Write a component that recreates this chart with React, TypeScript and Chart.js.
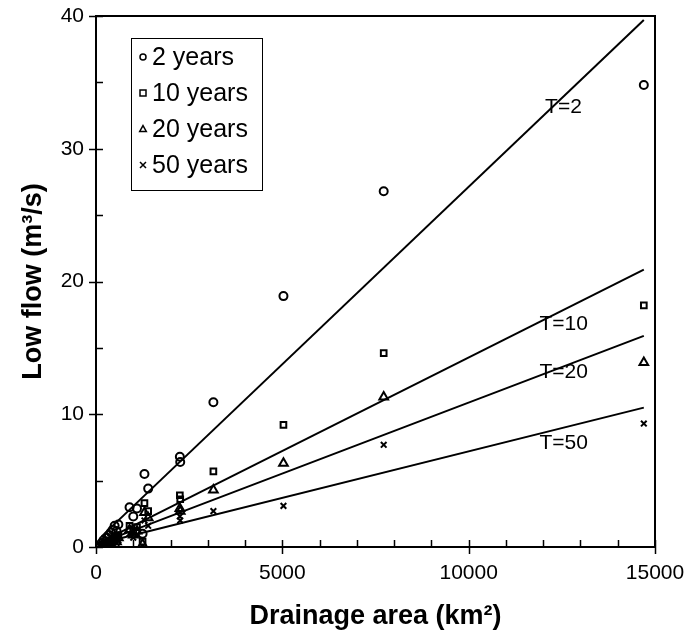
import React, { useEffect, useRef } from "react";
import { Chart, registerables } from "chart.js";

Chart.register(...registerables);

// Drainage area of each gauging station (km²)
const AREA = [150, 200, 250, 300, 350, 400, 450, 500, 550, 600, 900, 1000, 1100, 1250, 1300, 1400, 2250, 2260, 3150, 5030, 7720, 14700];
// Low flow (m³/s) for each return period
const Q2 = [0.3, 0.5, 0.4, 0.7, 0.9, 1.1, 1.3, 1.6, 1.2, 1.7, 3.0, 2.3, 2.9, 1.0, 5.5, 4.4, 6.8, 6.4, 10.9, 18.9, 26.8, 34.8];
const Q10 = [0.1, 0.2, 0.2, 0.3, 0.4, 0.5, 0.6, 0.8, 0.6, 0.9, 1.6, 1.2, 1.5, 0.4, 3.3, 2.7, 3.9, 3.6, 5.7, 9.2, 14.6, 18.2];
const Q20 = [0.05, 0.1, 0.1, 0.2, 0.3, 0.4, 0.5, 0.6, 0.4, 0.7, 1.3, 0.9, 1.2, 0.2, 2.6, 2.2, 2.9, 2.7, 4.3, 6.3, 11.3, 13.9];
const Q50 = [0.0, 0.05, 0.05, 0.1, 0.2, 0.2, 0.3, 0.4, 0.3, 0.5, 1.0, 0.7, 0.9, 0.05, 2.0, 1.6, 2.3, 2.0, 2.7, 3.1, 7.7, 9.3];

// Fitted regression lines: value at the two ends of FIT_AREA
const FIT_AREA = [150, 14700];
const FIT_T2 = [0.8, 39.7];
const FIT_T10 = [0.4, 20.9];
const FIT_T20 = [0.35, 15.9];
const FIT_T50 = [0.3, 10.5];

// Line labels: text, anchor area (left edge), anchor flow (middle)
const LINE_LABELS = ["T=2", "T=10", "T=20", "T=50"];
const LABEL_AREA = [12050, 11900, 11900, 11900];
const LABEL_FLOW = [33.1, 16.8, 13.2, 7.8];

const LEGEND_TEXT = ["2 years", "10 years", "20 years", "50 years"];
const SERIES = [Q2, Q10, Q20, Q50];
const STYLES = ["circle", "rect", "triangle", "crossRot"];

const X_MAX = 15000;
const X_STEP = 5000;
const Y_MAX = 40;
const Y_STEP = 10;

const FONT = "'Liberation Sans', Arial, sans-serif";

function drawMarker(ctx: CanvasRenderingContext2D, style: string, x: number, y: number, r: number) {
  ctx.beginPath();
  if (style === "circle") {
    ctx.arc(x, y, r, 0, Math.PI * 2);
  } else if (style === "rect") {
    ctx.rect(x - r, y - r, 2 * r, 2 * r);
  } else if (style === "triangle") {
    ctx.moveTo(x, y - r * 1.15);
    ctx.lineTo(x + r * 1.1, y + r * 0.8);
    ctx.lineTo(x - r * 1.1, y + r * 0.8);
    ctx.closePath();
  } else {
    ctx.moveTo(x - r, y - r);
    ctx.lineTo(x + r, y + r);
    ctx.moveTo(x + r, y - r);
    ctx.lineTo(x - r, y + r);
  }
  ctx.stroke();
}

const framePlugin = {
  id: "frameAndTicks",
  afterDraw(chart: any) {
    const { ctx, chartArea } = chart;
    const xs = chart.scales.x;
    const ys = chart.scales.y;
    ctx.save();
    ctx.strokeStyle = "#000";
    ctx.lineWidth = 2;
    ctx.strokeRect(chartArea.left, chartArea.top, chartArea.right - chartArea.left, chartArea.bottom - chartArea.top);
    ctx.lineWidth = 1.5;
    ctx.beginPath();
    for (let v = 0; v <= X_MAX; v += 1000) {
      const px = Math.round(xs.getPixelForValue(v)) + 0.5;
      const major = v % X_STEP === 0;
      ctx.moveTo(px, chartArea.bottom + (major ? 7 : 0));
      ctx.lineTo(px, chartArea.bottom - 7);
    }
    for (let v = 0; v <= Y_MAX; v += 5) {
      const py = Math.round(ys.getPixelForValue(v)) + 0.5;
      const major = v % Y_STEP === 0;
      ctx.moveTo(chartArea.left - (major ? 7 : 0), py);
      ctx.lineTo(chartArea.left + 7, py);
    }
    ctx.stroke();

    // regression line labels
    ctx.fillStyle = "#000";
    ctx.font = `21px ${FONT}`;
    ctx.textBaseline = "middle";
    ctx.textAlign = "left";
    LINE_LABELS.forEach((t, i) => {
      ctx.fillText(t, xs.getPixelForValue(LABEL_AREA[i]), ys.getPixelForValue(LABEL_FLOW[i]));
    });

    // legend
    const lx = 131, ly = 38, lw = 131, lh = 152;
    ctx.fillStyle = "#fff";
    ctx.fillRect(lx, ly, lw, lh);
    ctx.lineWidth = 1;
    ctx.strokeStyle = "#000";
    ctx.strokeRect(lx + 0.5, ly + 0.5, lw, lh);
    ctx.fillStyle = "#000";
    ctx.font = `25px ${FONT}`;
    LEGEND_TEXT.forEach((t, i) => {
      const cy = ly + 19 + i * 36;
      ctx.lineWidth = 1.5;
      drawMarker(ctx, STYLES[i], lx + 12, cy, 3);
      ctx.fillText(t, lx + 21, cy + 1);
    });
    ctx.restore();
  },
};

export default function App() {
  const ref = useRef<HTMLCanvasElement | null>(null);
  useEffect(() => {
    if (!ref.current) return;
    const pts = (ys: number[]) => AREA.map((a, i) => ({ x: a, y: ys[i] }));
    const fit = (ys: number[]) => FIT_AREA.map((a, i) => ({ x: a, y: ys[i] }));
    const lineDs = (ys: number[]) => ({
      type: "line" as const,
      data: fit(ys),
      borderColor: "#000",
      borderWidth: 2,
      pointRadius: 0,
      showLine: true,
      fill: false,
    });
    const chart = new Chart(ref.current, {
      type: "scatter",
      data: {
        datasets: [
          lineDs(FIT_T2),
          lineDs(FIT_T10),
          lineDs(FIT_T20),
          lineDs(FIT_T50),
          ...SERIES.map((s, i) => ({
            type: "scatter" as const,
            label: LEGEND_TEXT[i],
            data: pts(s),
            pointStyle: STYLES[i] as any,
            pointRadius: STYLES[i] === "triangle" ? 5 : 4,
            borderColor: "#000",
            backgroundColor: "rgba(0,0,0,0)",
            borderWidth: 2,
          })),
        ],
      },
      options: {
        responsive: false,
        animation: false,
        layout: { padding: { top: 16, right: 31, left: 0, bottom: 0 } },
        plugins: { legend: { display: false }, tooltip: { enabled: false } },
        scales: {
          x: {
            type: "linear",
            min: 0,
            max: X_MAX,
            afterFit: (s: any) => {
              s.height = 95;
              s.paddingLeft = 0;
              s.paddingRight = 0;
            },
            ticks: {
              stepSize: X_STEP,
              color: "#000",
              font: { family: FONT, size: 21 },
              padding: 14,
              maxRotation: 0,
              callback: (v: any) => String(v),
            },
            grid: { display: false, drawTicks: false },
            border: { display: false },
            title: {
              display: true,
              text: "Drainage area (km²)",
              color: "#000",
              font: { family: FONT, size: 27, weight: "bold" },
              padding: { top: 0, bottom: 9 },
            },
          },
          y: {
            type: "linear",
            min: 0,
            max: Y_MAX,
            afterFit: (s: any) => {
              s.width = 96;
              s.paddingTop = 0;
              s.paddingBottom = 0;
            },
            ticks: {
              stepSize: Y_STEP,
              color: "#000",
              font: { family: FONT, size: 21 },
              padding: 12,
              callback: (v: any) => String(v),
            },
            grid: { display: false, drawTicks: false },
            border: { display: false },
            title: {
              display: true,
              text: "Low flow (m³/s)",
              color: "#000",
              font: { family: FONT, size: 27, weight: "bold" },
              padding: { top: 17, bottom: 0 },
            },
          },
        },
      },
      plugins: [framePlugin],
    } as any);
    return () => chart.destroy();
  }, []);
  return (
    <div style={{ position: "fixed", left: 0, top: 0, width: 686, height: 642, background: "#fff" }}>
      <canvas ref={ref} width={686} height={642} />
    </div>
  );
}
